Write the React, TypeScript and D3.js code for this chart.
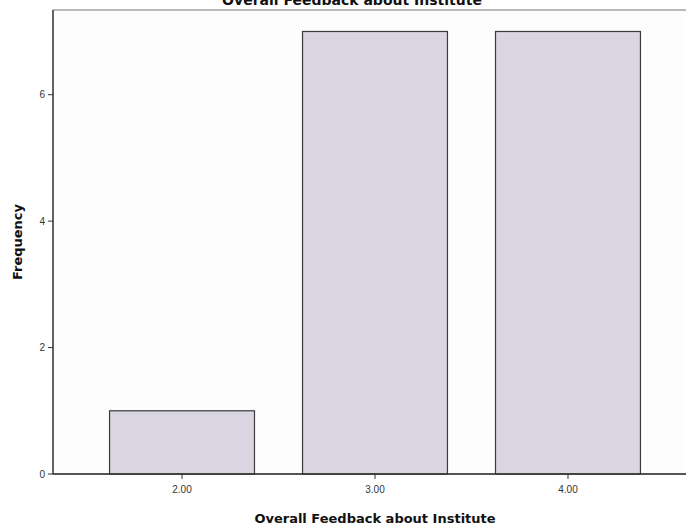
import React from 'react';
import * as d3 from 'd3';

const categories = ['2.00', '3.00', '4.00'];
const frequencies = [1, 7, 7];
const yTicks = [0, 2, 4, 6];
const chartTitle = 'Overall Feedback about Institute';
const xTitle = 'Overall Feedback about Institute';
const yTitle = 'Frequency';

const width = 686;
const height = 527;
const margin = { top: 10, right: -11, bottom: 53, left: 53 };

export default function App() {
  const x = d3.scaleBand<string>()
    .domain(categories)
    .range([margin.left, width - margin.right])
    .paddingInner(0.249)
    .paddingOuter(0.293);

  const y = d3.scaleLinear()
    .domain([0, 7.34])
    .range([height - margin.bottom, margin.top]);

  const baseY = y(0);

  return (
    <svg
      width={width}
      height={height}
      style={{ position: 'absolute', left: 0, top: 0, background: '#fff' }}
      fontFamily="Liberation Sans, Arial, sans-serif"
    >
      {/* plot frame */}
      <rect
        x={margin.left}
        y={margin.top}
        width={width - margin.right - margin.left}
        height={baseY - margin.top}
        fill="#fdfdfd"
        stroke="#777"
        strokeWidth={1}
      />

      {/* bars */}
      {categories.map((c, i) => (
        <rect
          key={c}
          x={x(c)!}
          y={y(frequencies[i])}
          width={x.bandwidth()}
          height={baseY - y(frequencies[i])}
          fill="#dad6e1"
          stroke="#3a3a3a"
          strokeWidth={1.2}
        />
      ))}

      {/* axes */}
      <line x1={margin.left} x2={margin.left} y1={margin.top} y2={baseY} stroke="#333" strokeWidth={1.3} />
      <line x1={margin.left} x2={width} y1={baseY} y2={baseY} stroke="#333" strokeWidth={1.3} />

      {yTicks.map(t => (
        <g key={t}>
          <line x1={margin.left - 5} x2={margin.left} y1={y(t)} y2={y(t)} stroke="#333" />
          <text x={margin.left - 8} y={y(t)} dy="0.35em" textAnchor="end" fontSize={10} fill="#333">{t}</text>
        </g>
      ))}

      {categories.map(c => {
        const cx = x(c)! + x.bandwidth() / 2;
        return (
          <g key={c}>
            <line x1={cx} x2={cx} y1={baseY} y2={baseY + 5} stroke="#333" />
            <text x={cx} y={baseY + 19} textAnchor="middle" fontSize={10} fill="#333">{c}</text>
          </g>
        );
      })}

      {/* titles */}
      <text x={352} y={5} textAnchor="middle" fontSize={14} fontWeight="bold" fontFamily="DejaVu Sans, sans-serif" fill="#111">{chartTitle}</text>
      <text x={375} y={523} textAnchor="middle" fontSize={13} fontWeight="bold" fontFamily="DejaVu Sans, sans-serif" fill="#111">{xTitle}</text>
      <text
        transform={`translate(22, ${(margin.top + baseY) / 2}) rotate(-90)`}
        textAnchor="middle"
        fontSize={13}
        fontWeight="bold"
        fontFamily="DejaVu Sans, sans-serif"
        fill="#111"
      >{yTitle}</text>
    </svg>
  );
}
